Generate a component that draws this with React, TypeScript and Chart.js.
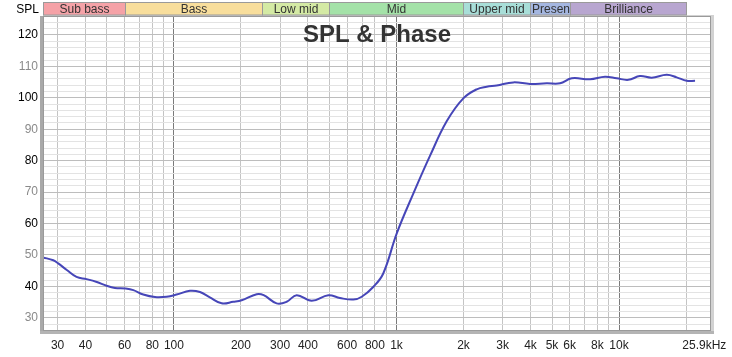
import { useEffect, useRef } from 'react';
import { Chart, registerables } from 'chart.js';

Chart.register(...registerables);

const FONT = '"Liberation Sans", Arial, sans-serif';

// Frequency response (Hz → dB SPL)
const freqHz = [
  25.8, 28.7, 30.2, 33, 36.5, 40.5, 45, 49.8, 54.3, 60.6, 65.7, 72.8, 82.2, 92.7,
  102.8, 118, 130.9, 145, 163.8, 184.7, 201.5, 235.5, 253, 289.4, 321, 356, 415.8,
  494, 557, 640, 698, 786, 872, 1002, 1190, 1414, 1681, 1996, 2294, 2543, 2820,
  3350, 3981, 4732, 5431, 6131, 7411, 8650, 9763, 11015, 12416, 14030, 16380,
  18160, 20140, 21960,
];
const splDb = [
  49.2, 48.3, 47.3, 45.2, 43.0, 42.3, 41.4, 40.2, 39.5, 39.3, 38.8, 37.4, 36.6, 36.7,
  37.4, 38.6, 38.2, 36.5, 34.6, 35.1, 35.6, 37.5, 37.2, 34.6, 35.1, 37.2, 35.4,
  37.2, 36.3, 35.8, 36.7, 39.8, 44.1, 56.8, 69.5, 81.5, 92.5, 99.8, 102.7, 103.5, 103.9,
  104.9, 104.4, 104.6, 104.6, 106.2, 105.9, 106.7, 106.2, 105.7, 106.9, 106.4, 107.3,
  106.5, 105.4, 105.4,
];

const xMin = 25.8;
const xMax = 25900;
const yMin = 25.8;
const yMax = 125.7;

const xTickValues = [
  30, 40, 50, 60, 70, 80, 90, 100, 200, 300, 400, 500, 600, 700, 800, 900,
  1000, 2000, 3000, 4000, 5000, 6000, 7000, 8000, 9000, 10000, 20000, 25900,
];
const xTickLabels: Record<number, string> = {
  30: '30', 40: '40', 60: '60', 80: '80', 100: '100', 200: '200', 300: '300',
  400: '400', 600: '600', 800: '800', 1000: '1k', 2000: '2k', 3000: '3k',
  4000: '4k', 5000: '5k', 6000: '6k', 8000: '8k', 10000: '10k', 25900: '25.9kHz    ',
};
const xMajorTicks = [100, 1000, 10000];

const yTickValues = [
  26, 28, 30, 32, 34, 36, 38, 40, 42, 44, 46, 48, 50, 52, 54, 56, 58, 60, 62, 64,
  66, 68, 70, 72, 74, 76, 78, 80, 82, 84, 86, 88, 90, 92, 94, 96, 98, 100, 102,
  104, 106, 108, 110, 112, 114, 116, 118, 120, 122, 124,
];

const bandNames = ['Sub bass', 'Bass', 'Low mid', 'Mid', 'Upper mid', 'Presence', 'Brilliance'];
const bandEdgesHz = [20, 60, 250, 500, 2000, 4000, 6000, 20000];
const bandColors = ['#f5a2a7', '#f8de9c', '#d4eaa4', '#a4e2a8', '#a8ded8', '#a4b6e0', '#b8a6d0'];

const decorPlugin = {
  id: 'decor',
  beforeDatasetsDraw(chart: any) {
    const { ctx, chartArea: a } = chart;
    ctx.save();
    // title over the grid
    ctx.font = `bold 24px ${FONT}`;
    ctx.fillStyle = '#333333';
    ctx.textAlign = 'center';
    ctx.textBaseline = 'alphabetic';
    ctx.fillText('SPL & Phase', (a.left + a.right) / 2, 41.5);
    ctx.restore();
  },
  afterDraw(chart: any) {
    const { ctx, chartArea: a } = chart;
    const xs = chart.scales.x;
    ctx.save();
    // frame with sunken shading
    ctx.fillStyle = '#a9a9a9';
    ctx.fillRect(a.left - 3, a.top - 1, 3, a.bottom - a.top + 4);
    ctx.fillStyle = '#b4b4b4';
    ctx.fillRect(a.left - 3, a.bottom, a.right - a.left + 6, 3);
    ctx.fillStyle = '#d2d2d2';
    ctx.fillRect(a.right, a.top - 2, 3, a.bottom - a.top + 2);
    ctx.fillRect(a.left, a.top - 2, a.right - a.left + 3, 1);
    ctx.strokeStyle = '#9a9a9a';
    ctx.lineWidth = 1;
    ctx.strokeRect(a.left + 0.5, a.top - 0.5, a.right - a.left - 1, a.bottom - a.top);

    // SPL label
    ctx.font = `12px ${FONT}`;
    ctx.fillStyle = '#000000';
    ctx.textAlign = 'right';
    ctx.textBaseline = 'alphabetic';
    ctx.fillText('SPL', 39, 13);

    // band row
    const top = 2.5;
    const h = 12.5;
    for (let i = 0; i < bandNames.length; i++) {
      const x0 = Math.max(xs.getPixelForValue(bandEdgesHz[i]), a.left);
      const x1 = xs.getPixelForValue(bandEdgesHz[i + 1]);
      const r0 = Math.round(x0) + 0.5;
      const r1 = Math.round(x1) + 0.5;
      ctx.fillStyle = bandColors[i];
      ctx.fillRect(r0, top, r1 - r0, h);
      ctx.strokeStyle = '#9a9a9a';
      ctx.strokeRect(r0, top, r1 - r0, h);
      ctx.save();
      ctx.beginPath();
      ctx.rect(r0, top, r1 - r0, h);
      ctx.clip();
      ctx.font = `12px ${FONT}`;
      ctx.fillStyle = '#333333';
      const w = ctx.measureText(bandNames[i]).width;
      if (w > r1 - r0 - 4) {
        ctx.textAlign = 'left';
        ctx.fillText(bandNames[i], r0 + 1.5, 13);
      } else {
        ctx.textAlign = 'center';
        ctx.fillText(bandNames[i], (r0 + r1) / 2, 13);
      }
      ctx.restore();
    }
    ctx.restore();
  },
};

export default function App() {
  const ref = useRef<HTMLCanvasElement | null>(null);
  useEffect(() => {
    if (!ref.current) return;
    const chart = new Chart(ref.current, {
      type: 'line',
      data: {
        datasets: [
          {
            data: freqHz.map((f, i) => ({ x: f, y: splDb[i] })),
            borderColor: '#4646b8',
            borderWidth: 2,
            pointRadius: 0,
            tension: 0.4,
            fill: false,
          },
        ],
      },
      options: {
        animation: false,
        responsive: false,
        devicePixelRatio: 1,
        layout: { padding: { left: 0, top: 17, right: 21, bottom: 0 } },
        plugins: { legend: { display: false }, tooltip: { enabled: false }, title: { display: false } },
        scales: {
          x: {
            type: 'logarithmic',
            min: xMin,
            max: xMax,
            afterBuildTicks: (s: any) => {
              s.ticks = xTickValues.map((v) => ({ value: v }));
            },
            afterFit: (s: any) => {
              s.height = 26;
              s.paddingLeft = 0;
              s.paddingRight = 0;
            },
            ticks: {
              autoSkip: false,
              maxRotation: 0,
              minRotation: 0,
              padding: 7,
              color: '#222222',
              font: { family: FONT, size: 12 },
              callback: (v: any) => xTickLabels[Number(v)] ?? '',
            },
            grid: {
              drawTicks: false,
              color: (c: any) => {
                const v = c.tick?.value;
                if (v === xMax) return 'rgba(0,0,0,0)';
                return xMajorTicks.includes(v) ? '#7a7a7a' : '#c4c4c4';
              },
            },
            border: { display: false },
          },
          y: {
            type: 'linear',
            min: yMin,
            max: yMax,
            afterBuildTicks: (s: any) => {
              s.ticks = yTickValues.map((v) => ({ value: v }));
            },
            afterFit: (s: any) => {
              s.width = 43;
              s.paddingTop = 0;
              s.paddingBottom = 0;
            },
            ticks: {
              autoSkip: false,
              padding: 5,
              font: { family: FONT, size: 12 },
              color: (c: any) => (c.tick.value % 20 === 0 ? '#000000' : '#8a8a8a'),
              callback: (v: any) => (Number(v) % 10 === 0 ? String(v) : ''),
            },
            grid: {
              drawTicks: false,
              color: (c: any) => (c.tick?.value % 10 === 0 ? '#bdbdbd' : '#e3e3e3'),
            },
            border: { display: false },
          },
        },
      },
      plugins: [decorPlugin],
    } as any);
    return () => chart.destroy();
  }, []);

  return (
    <div style={{ position: 'absolute', left: 0, top: 0, width: 732, height: 357, background: '#ffffff' }}>
      <canvas ref={ref} width={732} height={357} style={{ display: 'block' }} />
    </div>
  );
}
